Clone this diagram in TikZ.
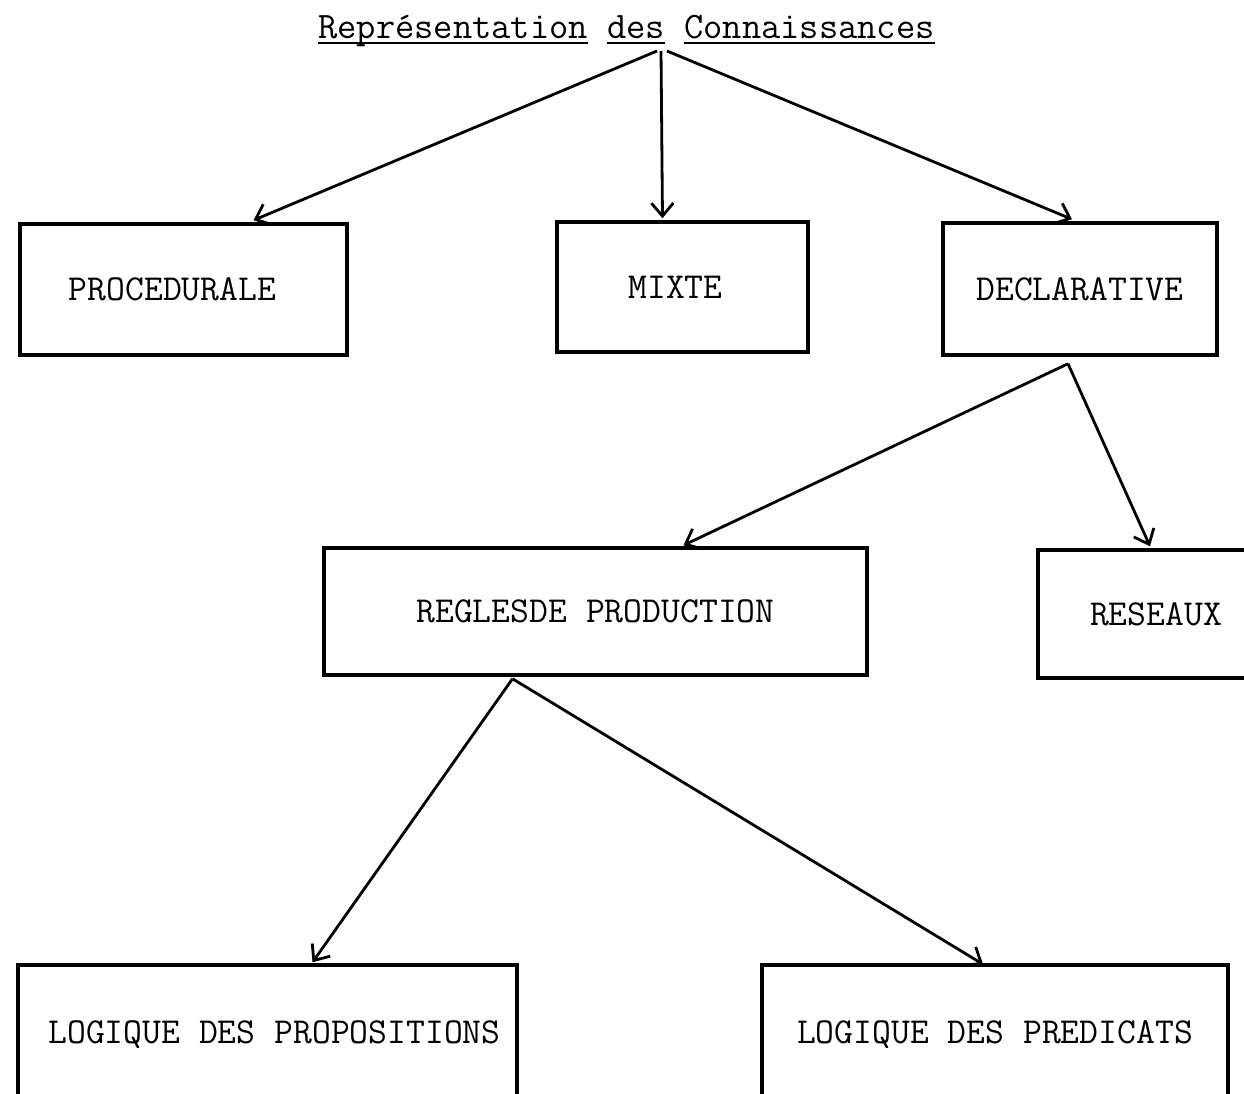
\documentclass[tikz,border=0pt]{standalone}
\usepackage{fontspec}
\usetikzlibrary{arrows.meta}
% word underlined with a heavier rule, as a typewriter would
\newcommand\ulword[1]{\setbox0=\hbox{#1}\rlap{\rule[-6pt]{\wd0}{2pt}}\box0\relax}
\begin{document}
\begin{tikzpicture}[x=1pt,y=-1pt,
  every node/.style={font=\ttfamily\fontsize{36.6}{44}\selectfont},
  box/.style={draw, line width=3.5pt, rectangle, inner sep=0pt,
              text height=22pt, text depth=0pt},
  arr/.style={line width=2.8pt, -{Straight Barb[length=13pt,width=22pt]}}]
\useasboundingbox (0,0) rectangle (1244,1093);
\clip (0,0) rectangle (1244,1093);
\fill[white] (0,0) rectangle (1244,1093);

% title
\node[anchor=base, inner sep=0pt, font=\ttfamily\fontsize{37.4}{44}\selectfont] (title) at (626.5,38)
  {\ulword{Représentation} \ulword{des} \ulword{Connaissances}};
\coordinate (hub) at (661,51);

% first level
\node[box, minimum width=327pt, minimum height=131pt] (proc) at (183.5,289.5) {\hspace*{-22pt}PROCEDURALE};
\node[box, minimum width=251pt, minimum height=130pt] (mixte) at (682.5,287) {\hspace*{-14pt}MIXTE};
\node[box, minimum width=274pt, minimum height=132pt] (decl) at (1080,289) {DECLARATIVE};

% second level
\node[box, minimum width=543pt, minimum height=127pt] (regles) at (595.5,611.5) {REGLESDE PRODUCTION};
\node[box, minimum width=236pt, minimum height=128pt] (res) at (1156,614) {RESEAUX};

% third level, running off the lower edge
\node[box, text depth=8pt, minimum width=499pt, minimum height=142pt] (prop) at (267.5,1036) {\hspace*{14pt}LOGIQUE DES PROPOSITIONS};
\node[box, text depth=8pt, minimum width=466pt, minimum height=142pt] (pred) at (995,1036) {LOGIQUE DES PREDICATS};

% connectors
\draw[arr] ([xshift=-4pt]hub) -- ([xshift=70pt,yshift=2pt]proc.north);
\draw[arr] (hub) -- ([xshift=-20pt,yshift=2pt]mixte.north);
\draw[arr] ([xshift=6pt]hub) -- ([xshift=-8pt,yshift=2pt]decl.north);

\draw[arr] ([xshift=-12pt,yshift=-7pt]decl.south) -- ([xshift=88pt,yshift=1pt]regles.north);
\draw[arr] ([xshift=-12pt,yshift=-7pt]decl.south) -- ([xshift=-6pt,yshift=2pt]res.north);

\draw[arr] ([xshift=-83pt,yshift=-2pt]regles.south) -- ([xshift=45pt,yshift=1pt]prop.north);
\draw[arr] ([xshift=-83pt,yshift=-2pt]regles.south) -- ([xshift=-12pt,yshift=-1pt]pred.north);
\end{tikzpicture}
\end{document}
